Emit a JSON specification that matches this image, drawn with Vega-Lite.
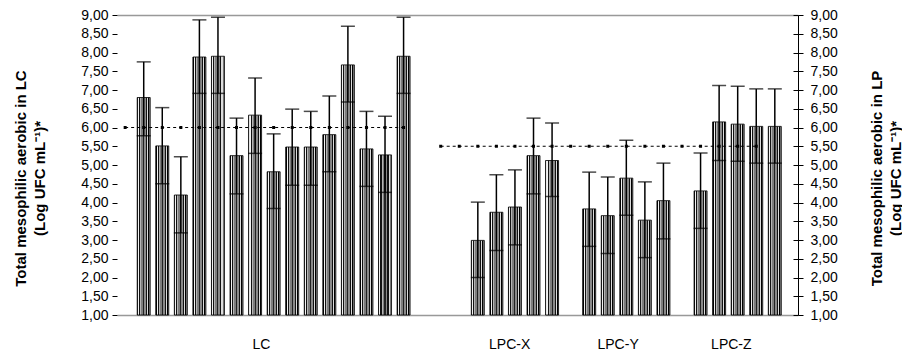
{
  "$schema": "https://vega.github.io/schema/vega-lite/v6.json",
  "width": 681,
  "height": 300,
  "autosize": {"type": "none"},
  "padding": {"left": 117, "top": 15, "right": 104, "bottom": 41},
  "background": "white",
  "config": {
    "view": {"stroke": null},
    "locale": {"number": {"decimal": ",", "thousands": ".", "grouping": [3], "currency": ["", ""]}},
    "axis": {"grid": false, "labelFont": "Liberation Sans", "labelFontSize": 14, "labelColor": "#000", "titleFont": "Liberation Sans", "titleFontSize": 15, "titleFontWeight": "bold", "titleColor": "#000"}
  },
  "datasets": {
    "bars": [
      {"group": "LC", "slot": 0, "value": 6.80, "lo": 5.78, "hi": 7.75},
      {"group": "LC", "slot": 1, "value": 5.51, "lo": 4.50, "hi": 6.53},
      {"group": "LC", "slot": 2, "value": 4.20, "lo": 3.19, "hi": 5.22},
      {"group": "LC", "slot": 3, "value": 7.88, "lo": 6.91, "hi": 8.87},
      {"group": "LC", "slot": 4, "value": 7.90, "lo": 6.91, "hi": 8.94},
      {"group": "LC", "slot": 5, "value": 5.25, "lo": 4.23, "hi": 6.25},
      {"group": "LC", "slot": 6, "value": 6.33, "lo": 5.31, "hi": 7.32},
      {"group": "LC", "slot": 7, "value": 4.82, "lo": 3.84, "hi": 5.83},
      {"group": "LC", "slot": 8, "value": 5.48, "lo": 4.46, "hi": 6.49},
      {"group": "LC", "slot": 9, "value": 5.48, "lo": 4.46, "hi": 6.43},
      {"group": "LC", "slot": 10, "value": 5.81, "lo": 4.82, "hi": 6.84},
      {"group": "LC", "slot": 11, "value": 7.67, "lo": 6.68, "hi": 8.70},
      {"group": "LC", "slot": 12, "value": 5.43, "lo": 4.43, "hi": 6.43},
      {"group": "LC", "slot": 13, "value": 5.27, "lo": 4.27, "hi": 6.30},
      {"group": "LC", "slot": 14, "value": 7.90, "lo": 6.91, "hi": 8.94},
      {"group": "LPC-X", "slot": 18, "value": 2.99, "lo": 2.00, "hi": 4.01},
      {"group": "LPC-X", "slot": 19, "value": 3.74, "lo": 2.72, "hi": 4.74},
      {"group": "LPC-X", "slot": 20, "value": 3.88, "lo": 2.87, "hi": 4.87},
      {"group": "LPC-X", "slot": 21, "value": 5.25, "lo": 4.23, "hi": 6.25},
      {"group": "LPC-X", "slot": 22, "value": 5.12, "lo": 4.16, "hi": 6.12},
      {"group": "LPC-Y", "slot": 24, "value": 3.83, "lo": 2.83, "hi": 4.81},
      {"group": "LPC-Y", "slot": 25, "value": 3.65, "lo": 2.64, "hi": 4.68},
      {"group": "LPC-Y", "slot": 26, "value": 4.65, "lo": 3.66, "hi": 5.66},
      {"group": "LPC-Y", "slot": 27, "value": 3.53, "lo": 2.53, "hi": 4.55},
      {"group": "LPC-Y", "slot": 28, "value": 4.05, "lo": 3.03, "hi": 5.05},
      {"group": "LPC-Z", "slot": 30, "value": 4.31, "lo": 3.31, "hi": 5.32},
      {"group": "LPC-Z", "slot": 31, "value": 6.15, "lo": 5.12, "hi": 7.12},
      {"group": "LPC-Z", "slot": 32, "value": 6.09, "lo": 5.10, "hi": 7.10},
      {"group": "LPC-Z", "slot": 33, "value": 6.03, "lo": 5.05, "hi": 7.03},
      {"group": "LPC-Z", "slot": 34, "value": 6.03, "lo": 5.05, "hi": 7.03}
    ],
    "lines": [
      {"series": "LC", "slot": -1, "y": 6.0}, {"series": "LC", "slot": 0, "y": 6.0},
      {"series": "LC", "slot": 1, "y": 6.0}, {"series": "LC", "slot": 2, "y": 6.0},
      {"series": "LC", "slot": 3, "y": 6.0}, {"series": "LC", "slot": 4, "y": 6.0},
      {"series": "LC", "slot": 5, "y": 6.0}, {"series": "LC", "slot": 6, "y": 6.0},
      {"series": "LC", "slot": 7, "y": 6.0}, {"series": "LC", "slot": 8, "y": 6.0},
      {"series": "LC", "slot": 9, "y": 6.0}, {"series": "LC", "slot": 10, "y": 6.0},
      {"series": "LC", "slot": 11, "y": 6.0}, {"series": "LC", "slot": 12, "y": 6.0},
      {"series": "LC", "slot": 13, "y": 6.0}, {"series": "LC", "slot": 14, "y": 6.0},
      {"series": "LP", "slot": 16, "y": 5.5}, {"series": "LP", "slot": 17, "y": 5.5},
      {"series": "LP", "slot": 18, "y": 5.5}, {"series": "LP", "slot": 19, "y": 5.5},
      {"series": "LP", "slot": 20, "y": 5.5}, {"series": "LP", "slot": 21, "y": 5.5},
      {"series": "LP", "slot": 22, "y": 5.5}, {"series": "LP", "slot": 23, "y": 5.5},
      {"series": "LP", "slot": 24, "y": 5.5}, {"series": "LP", "slot": 25, "y": 5.5},
      {"series": "LP", "slot": 26, "y": 5.5}, {"series": "LP", "slot": 27, "y": 5.5},
      {"series": "LP", "slot": 28, "y": 5.5}, {"series": "LP", "slot": 29, "y": 5.5},
      {"series": "LP", "slot": 30, "y": 5.5}, {"series": "LP", "slot": 31, "y": 5.5},
      {"series": "LP", "slot": 32, "y": 5.5}, {"series": "LP", "slot": 33, "y": 5.5}
    ]
  },
  "resolve": {"axis": {"x": "independent", "y": "independent"}},
  "layer": [
    {
      "data": {"name": "bars"},
      "mark": {
        "type": "bar",
        "size": 13,
        "stroke": "#000",
        "strokeWidth": 0.8,
        "fill": {
          "gradient": "linear", "x1": 0, "x2": 1, "y1": 0, "y2": 0,
          "stops": [
            {"offset": 0, "color": "#000"}, {"offset": 0.07, "color": "#000"},
            {"offset": 0.07, "color": "#f2f2f2"}, {"offset": 0.15, "color": "#f2f2f2"},
            {"offset": 0.15, "color": "#111"}, {"offset": 0.23, "color": "#111"},
            {"offset": 0.23, "color": "#b5b5b5"}, {"offset": 0.31, "color": "#b5b5b5"},
            {"offset": 0.31, "color": "#7d7d7d"}, {"offset": 0.46, "color": "#7d7d7d"},
            {"offset": 0.46, "color": "#222"}, {"offset": 0.54, "color": "#222"},
            {"offset": 0.54, "color": "#8a8a8a"}, {"offset": 0.69, "color": "#8a8a8a"},
            {"offset": 0.69, "color": "#111"}, {"offset": 0.77, "color": "#111"},
            {"offset": 0.77, "color": "#dcdcdc"}, {"offset": 0.85, "color": "#dcdcdc"},
            {"offset": 0.85, "color": "#000"}, {"offset": 0.92, "color": "#000"},
            {"offset": 0.92, "color": "#777"}, {"offset": 1, "color": "#777"}
          ]
        }
      },
      "encoding": {
        "x": {
          "field": "slot", "type": "quantitative",
          "scale": {"domain": [-1.17, 34.98], "nice": false, "zero": false},
          "axis": {
            "orient": "bottom", "title": null, "ticks": false,
            "domainColor": "#999", "domainWidth": 1.5,
            "values": [6.32, 19.69, 25.53, 31.63],
            "labelExpr": "datum.value < 10 ? 'LC' : datum.value < 22 ? 'LPC-X' : datum.value < 28 ? 'LPC-Y' : 'LPC-Z'",
            "labelPadding": 22, "labelFlush": false, "labelOverlap": false
          }
        },
        "y": {
          "field": "value", "type": "quantitative",
          "scale": {"domain": [1, 9], "nice": false, "zero": false},
          "axis": {
            "orient": "left", "domain": false, "tickSize": 5, "tickColor": "#000",
            "labelPadding": 4, "format": ".2f",
            "values": [1, 1.5, 2, 2.5, 3, 3.5, 4, 4.5, 5, 5.5, 6, 6.5, 7, 7.5, 8, 8.5, 9],
            "title": ["Total mesophilic aerobic in LC", "(Log UFC mL⁻¹)*"],
            "titleAngle": -90, "titleX": -97, "titleY": 163,
            "titleAlign": "center", "titleBaseline": "middle", "titleLineHeight": 19
          }
        },
        "y2": {"datum": 1}
      }
    },
    {
      "data": {"name": "bars"},
      "mark": {"type": "rule", "color": "#000", "strokeWidth": 1.5},
      "encoding": {
        "x": {
          "field": "slot", "type": "quantitative",
          "scale": {"domain": [-1.17, 34.98], "nice": false, "zero": false},
          "axis": {"orient": "top", "title": null, "ticks": false, "labels": false, "domainColor": "#999", "domainWidth": 1.5}
        },
        "y": {
          "field": "lo", "type": "quantitative",
          "scale": {"domain": [1, 9], "nice": false, "zero": false},
          "axis": {
            "orient": "right", "domainColor": "#000", "tickSize": 5, "tickColor": "#000",
            "labelPadding": 7, "format": ".2f",
            "values": [1, 1.5, 2, 2.5, 3, 3.5, 4, 4.5, 5, 5.5, 6, 6.5, 7, 7.5, 8, 8.5, 9],
            "title": ["Total mesophilic aerobic in LP", "(Log UFC mL⁻¹)*"],
            "titleAngle": -90, "titleX": 78, "titleY": 163,
            "titleAlign": "center", "titleBaseline": "middle", "titleLineHeight": 19
          }
        },
        "y2": {"field": "hi"}
      }
    },
    {
      "data": {"name": "bars"},
      "mark": {"type": "tick", "orient": "horizontal", "color": "#000", "size": 14, "thickness": 1.5},
      "encoding": {
        "x": {"field": "slot", "type": "quantitative", "scale": {"domain": [-1.17, 34.98], "nice": false, "zero": false}, "axis": null},
        "y": {
          "field": "hi", "type": "quantitative",
          "scale": {"domain": [1, 9], "nice": false, "zero": false},
          "axis": {
            "orient": "right", "offset": -5, "domain": false, "labels": false, "title": null,
            "tickSize": 5, "tickColor": "#000",
            "values": [1, 1.5, 2, 2.5, 3, 3.5, 4, 4.5, 5, 5.5, 6, 6.5, 7, 7.5, 8, 8.5, 9]
          }
        }
      }
    },
    {
      "data": {"name": "bars"},
      "mark": {"type": "tick", "orient": "horizontal", "color": "#000", "size": 14, "thickness": 1.5},
      "encoding": {
        "x": {"field": "slot", "type": "quantitative", "scale": {"domain": [-1.17, 34.98], "nice": false, "zero": false}, "axis": null},
        "y": {"field": "lo", "type": "quantitative", "scale": {"domain": [1, 9], "nice": false, "zero": false}, "axis": null}
      }
    },
    {
      "data": {"name": "lines"},
      "mark": {"type": "line", "color": "#000", "strokeWidth": 1, "strokeDash": [3, 3]},
      "encoding": {
        "x": {"field": "slot", "type": "quantitative", "scale": {"domain": [-1.17, 34.98], "nice": false, "zero": false}, "axis": null},
        "y": {"field": "y", "type": "quantitative", "scale": {"domain": [1, 9], "nice": false, "zero": false}, "axis": null},
        "detail": {"field": "series"}
      }
    },
    {
      "data": {"name": "lines"},
      "mark": {"type": "point", "shape": "square", "filled": true, "color": "#000", "size": 9, "opacity": 1},
      "encoding": {
        "x": {"field": "slot", "type": "quantitative", "scale": {"domain": [-1.17, 34.98], "nice": false, "zero": false}, "axis": null},
        "y": {"field": "y", "type": "quantitative", "scale": {"domain": [1, 9], "nice": false, "zero": false}, "axis": null}
      }
    }
  ]
}
